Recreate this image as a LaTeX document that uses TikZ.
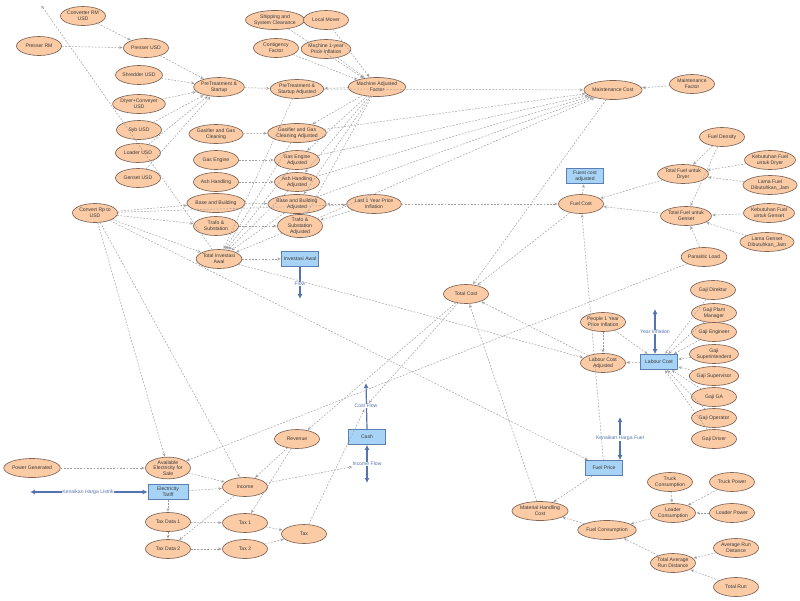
\documentclass[tikz,border=0pt]{standalone}
\usepackage{fontspec}
\setmainfont{Liberation Sans}
\usetikzlibrary{shapes.geometric,arrows.meta}
\definecolor{ellfill}{HTML}{FBCBA6}
\definecolor{ellborder}{HTML}{7E6354}
\definecolor{boxfill}{HTML}{A7D3F6}
\definecolor{boxborder}{HTML}{5B7FB0}
\definecolor{linkgray}{HTML}{9E9E9E}
\definecolor{flowblue}{HTML}{5573AE}
\definecolor{txt}{HTML}{3A3A3A}
\newcommand{\nf}{\fontsize{5.1}{5.8}\selectfont}
\begin{document}
\begin{tikzpicture}[x=1pt,y=-1pt,
 var/.style={ellipse, draw=ellborder, line width=0.65pt, fill=ellfill, minimum width=45pt, minimum height=19pt, inner sep=0pt, align=center, font=\nf, text=txt},
 stock/.style={rectangle, draw=boxborder, line width=0.7pt, fill=boxfill, minimum width=37pt, minimum height=15pt, inner sep=0pt, align=center, font=\nf, text=txt},
 link/.style={draw=linkgray, line width=0.5pt, dash pattern=on 1.8pt off 1.5pt, shorten >=0.5pt, -{Stealth[length=3.5pt,width=3pt,open]}},
 flowarrow/.style={draw=flowblue, line width=1.2pt, -{Latex[length=5pt,width=5pt]}},
 flowboth/.style={draw=flowblue, line width=1.2pt, {Latex[length=5pt,width=5pt]}-{Latex[length=5pt,width=5pt]}},
 flowlbl/.style={font=\nf, text=flowblue, fill=white, inner sep=0.6pt}]
\fill[white] (0,0) rectangle (800,600);
\useasboundingbox (0,0) rectangle (800,600);
% ---- nodes
\node[var] (conv) at (83,16) {Converter RM\\USD};
\node[var] (presRM) at (39,46) {Presser RM};
\node[var] (presU) at (146,48) {Presser USD};
\node[var] (shred) at (139,75) {Shredder USD};
\node[var] (dryer) at (139,104) {Dryer+Conveyer\\USD};
\node[var] (syb) at (139,130) {Syb USD};
\node[var] (loader) at (138,153) {Loader USD};
\node[var] (genset) at (138,178) {Genset USD};
\node[var] (pre) at (219,87) {PreTreatment \&\\Startup};
\node[var] (preA) at (297,89) {PreTreatment \&\\Startup Adjusted};
\node[var] (ship) at (275,20) {Shipping and\\System Clearance};
\node[var] (mover) at (326,20) {Local Mover};
\node[var] (contig) at (276,48) {Contigency\\Factor};
\node[var] (mach) at (326,49) {Machine 1-year\\Price Inflation};
\node[var] (maf) at (377,87) {Machine Adjusted\\Factor};
\node[var] (gasif) at (216,134) {Gasifier and Gas\\Cleaning};
\node[var] (gasifA) at (297,133) {Gasifier and Gas\\Cleaning Adjusted};
\node[var] (gasE) at (216,160) {Gas Engine};
\node[var] (gasEA) at (297,160) {Gas Engine\\Adjusted};
\node[var] (ash) at (216,182) {Ash Handling};
\node[var] (ashA) at (297,182) {Ash Handling\\Adjusted};
\node[var] (base) at (216,203) {Base and Building};
\node[var] (baseA) at (297,204) {Base and Building\\Adjusted};
\node[var] (trafo) at (216,226) {Trafo \&\\Substation};
\node[var] (trafoA) at (300,226) {Trafo \&\\Substation\\Adjusted};
\node[var] (tia) at (219,259) {Total Investasi\\Awal};
\node[var] (rp) at (95,213) {Convert Rp to\\USD};
\node[stock] (inv) at (300,259) {Investasi Awal};
\node[var] (last1) at (374,204) {Last 1 Year Price\\Inflation};
\node[var] (mcost) at (613,90) {Maintenance Cost};
\node[var] (mfactor) at (692,84) {Maintenance\\Factor};
\node[var] (fdens) at (722,137) {Fuel Density};
\node[var] (tfd) at (683,174) {Total Fuel untuk\\Dryer};
\node[var] (kfd) at (770,160) {Kebutuhan Fuel\\untuk Dryer};
\node[var] (lfd) at (770,185) {Lama Fuel\\Dibutuhkan\_Jam};
\node[stock] (fca) at (585,176) {Fuest cost\\adjusted};
\node[var] (fcost) at (581,204) {Fuel Cost};
\node[var] (tfg) at (686,216) {Total Fuel untuk\\Genset};
\node[var] (kfg) at (769,213) {Kebutuhan Fuel\\untuk Genset};
\node[var] (lgd) at (767,242) {Lama Genset\\Dibutuhkan\_Jam};
\node[var] (para) at (704,257) {Parasitic Load};
\node[var] (tcost) at (466,294) {Total Cost};
\node[var] (g1) at (713,290) {Gaji Direktur};
\node[var] (g2) at (714,313) {Gaji Plant\\Manager};
\node[var] (g3) at (714,332) {Gaji Engineer};
\node[var] (g4) at (714,354) {Gaji\\Superintendent};
\node[var] (g5) at (714,376) {Gaji Supervisor};
\node[var] (g6) at (714,397) {Gaji GA};
\node[var] (g7) at (714,418) {Gaji Operator};
\node[var] (g8) at (714,439) {Gaji Driver};
\node[var] (p1) at (603,322) {People 1 Year\\Price Inflation};
\node[var] (lca) at (603,363) {Labour Cost\\Adjusted};
\node[stock] (labour) at (659,362) {Labour Cost};
\node[stock] (fprice) at (604,468) {Fuel Price};
\node[var] (mhc) at (540,511) {Material Handling\\Cost};
\node[var] (fcons) at (607,530) {Fuel Consumption};
\node[var] (tcons) at (670,482) {Truck\\Consumption};
\node[var] (tpow) at (732,482) {Truck Power};
\node[var] (lcons) at (673,513) {Loader\\Consumption};
\node[var] (lpow) at (732,513) {Loader Power};
\node[var] (ard) at (736,548) {Average Run\\Distance};
\node[var] (tard) at (673,563) {Total Average\\Run Distance};
\node[var] (trun) at (736,587) {Total Run};
\node[var] (rev) at (297,439) {Revenue};
\node[stock] (cash) at (367,437) {Cash};
\node[var] (powgen) at (32,468) {Power Generated};
\node[var] (avail) at (168,468) {Available\\Electricity for\\Sale};
\node[stock, minimum width=40pt] (tariff) at (168,492) {Electricity\\Tariff};
\node[var] (income) at (245,487) {Income};
\node[var] (td1) at (168,522) {Tax Data 1};
\node[var] (tax1) at (245,523) {Tax 1};
\node[var] (td2) at (168,549) {Tax Data 2};
\node[var] (tax2) at (245,549) {Tax 2};
\node[var] (tax) at (304,534) {Tax};
% ---- flows
\coordinate (flowend) at (300,299);
\coordinate (costend) at (366,383);
\coordinate (incend) at (367,483);
\coordinate (yiend) at (655,309);
\coordinate (khfend) at (620,417);
\coordinate (khlend) at (30,492);
\coordinate (offtop) at (41,5);
\draw[flowarrow] (inv.south) -- (flowend);
\draw[flowarrow] (cash.north) -- (costend);
\draw[flowboth] (cash.south) -- (incend);
\draw[flowboth] ([xshift=-4pt]labour.north) -- (yiend);
\draw[flowboth] ([xshift=16pt]fprice.north) -- (khfend);
\draw[flowboth] (tariff.west) -- (khlend);
\node[flowlbl] (flowlab) at (300,284) {Flow};
\node[flowlbl] (costflow) at (366,406) {Cost Flow};
\node[flowlbl] (incflow) at (367,464) {Income Flow};
\node[flowlbl] (yinf) at (655,332) {Year Inflation};
\node[flowlbl] (khf) at (620,438) {Kenaikan Harga Fuel};
\node[flowlbl] (khl) at (88,492) {Kenaikan Harga Listrik};
% ---- links
\foreach \a/\b in {conv/presU, presRM/presU, presU/pre, shred/pre, dryer/pre, syb/pre, loader/pre, genset/pre,
  pre/preA, maf/preA, ship/maf, mover/maf, contig/maf, mach/maf,
  gasif/gasifA, gasE/gasEA, ash/ashA, base/baseA, trafo/trafoA,
  maf/gasifA, maf/gasEA, maf/ashA, maf/baseA, maf/trafoA,
  preA/mcost, gasifA/mcost, gasEA/mcost, ashA/mcost, baseA/mcost, trafoA/mcost, mfactor/mcost,
  preA/tia, gasifA/tia, gasEA/tia, ashA/tia, baseA/tia, trafoA/tia,
  tia/inv, tia/offtop, rp/base, rp/trafo, rp/tia, rp/last1, rp/fprice, rp/avail, rp/income,
  last1/baseA, last1/trafoA, last1/fcost,
  mcost/tcost, fcost/tcost, lca/tcost, mhc/tcost, tcost/rev, tcost/costflow, tia/lca,
  para/avail, para/tfg, fdens/tfd, fdens/tfg, kfd/tfd, lfd/tfd, kfg/tfg, lgd/tfg,
  tfd/fcost, tfg/fcost, fcost/fca, fprice/fcost, p1/lca, p1/labour, labour/lca,
  g1/labour, g2/labour, g3/labour, g4/labour, g5/labour, g6/labour, g7/labour, g8/labour,
  fprice/mhc, fcons/mhc, lcons/fcons, tcons/lcons, tpow/lcons, lpow/lcons, tard/fcons, ard/tard, trun/tard,
  powgen/avail, avail/income, tariff/income, tariff/td1, td1/td2, income/td2, td1/tax1, td2/tax2,
  tax1/tax, tax2/tax, rev/income, rev/tax1, tax/costflow, income/incflow}
  {\draw[link] (\a) -- (\b);}
\end{tikzpicture}
\end{document}
